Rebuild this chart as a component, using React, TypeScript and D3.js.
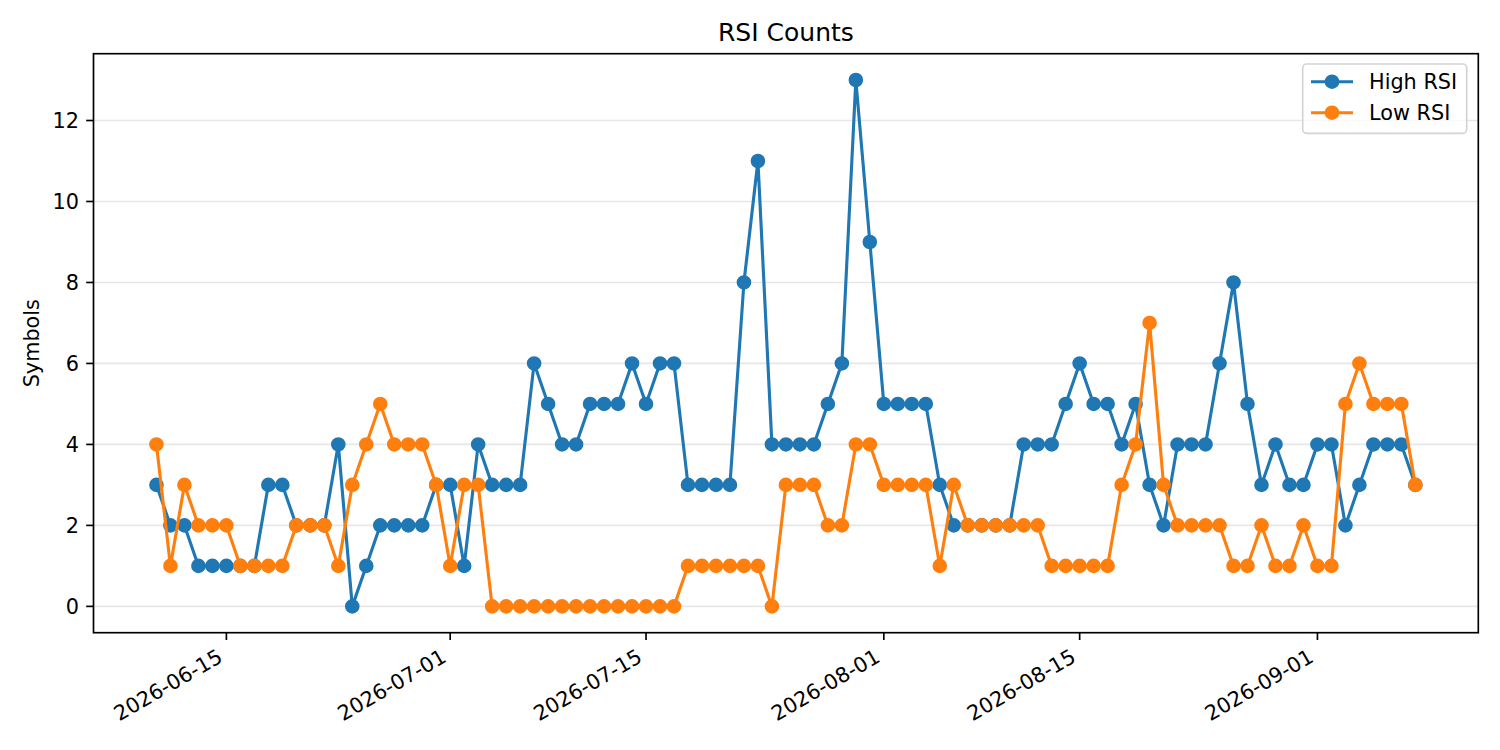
import React, { useEffect, useRef } from 'react';
import * as d3 from 'd3';

const START_DATE = '2026-06-10';

// one value per day, starting at START_DATE
const HIGH_RSI = [
  3, 2, 2, 1, 1, 1, 1, 1, 3, 3,
  2, 2, 2, 4, 0, 1, 2, 2, 2, 2,
  3, 3, 1, 4, 3, 3, 3, 6, 5, 4,
  4, 5, 5, 5, 6, 5, 6, 6, 3, 3,
  3, 3, 8, 11, 4, 4, 4, 4, 5, 6,
  13, 9, 5, 5, 5, 5, 3, 2, 2, 2,
  2, 2, 4, 4, 4, 5, 6, 5, 5, 4,
  5, 3, 2, 4, 4, 4, 6, 8, 5, 3,
  4, 3, 3, 4, 4, 2, 3, 4, 4, 4,
  3,
];

const LOW_RSI = [
  4, 1, 3, 2, 2, 2, 1, 1, 1, 1,
  2, 2, 2, 1, 3, 4, 5, 4, 4, 4,
  3, 1, 3, 3, 0, 0, 0, 0, 0, 0,
  0, 0, 0, 0, 0, 0, 0, 0, 1, 1,
  1, 1, 1, 1, 0, 3, 3, 3, 2, 2,
  4, 4, 3, 3, 3, 3, 1, 3, 2, 2,
  2, 2, 2, 2, 1, 1, 1, 1, 1, 3,
  4, 7, 3, 2, 2, 2, 2, 1, 1, 2,
  1, 1, 2, 1, 1, 5, 6, 5, 5, 5,
  3,
];

const SERIES_NAMES = ['High RSI', 'Low RSI'];
const Y_TICKS = [0, 2, 4, 6, 8, 10, 12];
const X_TICKS = ['2026-06-15', '2026-07-01', '2026-07-15', '2026-08-01', '2026-08-15', '2026-09-01'];

const WIDTH = 1500;
const HEIGHT = 750;
const PLOT = { left: 93.5, right: 1478.3, top: 53.7, bottom: 632.7 };

const COLORS = ['#1f77b4', '#ff7f0e'];
const FONT = '"DejaVu Sans", sans-serif';
const TICK_FS = 20.8;
const TICK_LEN = 7.3;
const TICK_PAD = 7.3;
const SPINE_W = 1.67;

const App: React.FC = () => {
  const svgRef = useRef<SVGSVGElement>(null);

  useEffect(() => {
    if (!svgRef.current) return;
    const svg = d3.select(svgRef.current);
    svg.selectAll('*').remove();

    const parse = d3.utcParse('%Y-%m-%d');
    const start = parse(START_DATE) as Date;
    const dates = HIGH_RSI.map((_, i) => d3.utcDay.offset(start, i));

    // matplotlib-style 5% margins around the data
    const [x0, x1] = d3.extent(dates) as [Date, Date];
    const xPad = (x1.getTime() - x0.getTime()) * 0.05;
    const x = d3
      .scaleUtc()
      .domain([new Date(x0.getTime() - xPad), new Date(x1.getTime() + xPad)])
      .range([PLOT.left, PLOT.right]);

    const yMax = d3.max([...HIGH_RSI, ...LOW_RSI]) || 0;
    const yMin = d3.min([...HIGH_RSI, ...LOW_RSI]) || 0;
    const yPad = (yMax - yMin) * 0.05;
    const y = d3
      .scaleLinear()
      .domain([yMin - yPad, yMax + yPad])
      .range([PLOT.bottom, PLOT.top]);

    svg.append('rect').attr('width', WIDTH).attr('height', HEIGHT).attr('fill', '#ffffff');

    // horizontal grid
    svg
      .append('g')
      .selectAll('line')
      .data(Y_TICKS)
      .enter()
      .append('line')
      .attr('x1', PLOT.left)
      .attr('x2', PLOT.right)
      .attr('y1', d => y(d))
      .attr('y2', d => y(d))
      .attr('stroke', '#e7e7e7')
      .attr('stroke-width', 1.67);

    // series: line then markers, blue first so orange sits on top
    const series = [HIGH_RSI, LOW_RSI];
    series.forEach((values, s) => {
      const pts = values.map((v, i) => ({ date: dates[i], value: v }));
      const line = d3
        .line<{ date: Date; value: number }>()
        .x(d => x(d.date))
        .y(d => y(d.value));
      const g = svg.append('g');
      g.append('path')
        .datum(pts)
        .attr('d', line)
        .attr('fill', 'none')
        .attr('stroke', COLORS[s])
        .attr('stroke-width', 3.125)
        .attr('stroke-linejoin', 'round')
        .attr('stroke-linecap', 'square');
      g.selectAll('circle')
        .data(pts)
        .enter()
        .append('circle')
        .attr('cx', d => x(d.date))
        .attr('cy', d => y(d.value))
        .attr('r', 6.25)
        .attr('fill', COLORS[s])
        .attr('stroke', COLORS[s])
        .attr('stroke-width', 2.08);
    });

    // frame
    svg
      .append('rect')
      .attr('x', PLOT.left)
      .attr('y', PLOT.top)
      .attr('width', PLOT.right - PLOT.left)
      .attr('height', PLOT.bottom - PLOT.top)
      .attr('fill', 'none')
      .attr('stroke', '#000')
      .attr('stroke-width', SPINE_W);

    // y ticks
    const yAxis = svg.append('g');
    Y_TICKS.forEach(t => {
      yAxis
        .append('line')
        .attr('x1', PLOT.left - TICK_LEN)
        .attr('x2', PLOT.left)
        .attr('y1', y(t))
        .attr('y2', y(t))
        .attr('stroke', '#000')
        .attr('stroke-width', SPINE_W);
      yAxis
        .append('text')
        .attr('x', PLOT.left - TICK_LEN - TICK_PAD)
        .attr('y', y(t) + TICK_FS * 0.365)
        .attr('text-anchor', 'end')
        .style('font-family', FONT)
        .style('font-size', `${TICK_FS}px`)
        .attr('fill', '#000')
        .text(String(t));
    });

    // x ticks, labels rotated 30deg and right-aligned like autofmt_xdate
    const xAxis = svg.append('g');
    X_TICKS.forEach(t => {
      const tx = x(parse(t) as Date);
      xAxis
        .append('line')
        .attr('x1', tx)
        .attr('x2', tx)
        .attr('y1', PLOT.bottom)
        .attr('y2', PLOT.bottom + TICK_LEN)
        .attr('stroke', '#000')
        .attr('stroke-width', SPINE_W);
      const ax = tx - 0.5 * 0.236 * TICK_FS;
      const ay = PLOT.bottom + TICK_LEN + TICK_PAD + 0.866 * 0.76 * TICK_FS;
      xAxis
        .append('text')
        .attr('transform', `translate(${ax},${ay}) rotate(-30)`)
        .attr('text-anchor', 'end')
        .style('font-family', FONT)
        .style('font-size', `${TICK_FS}px`)
        .attr('fill', '#000')
        .text(t);
    });

    // y label
    svg
      .append('text')
      .attr('transform', `translate(39.3,${(PLOT.top + PLOT.bottom) / 2}) rotate(-90)`)
      .attr('text-anchor', 'middle')
      .style('font-family', FONT)
      .style('font-size', `${TICK_FS}px`)
      .attr('fill', '#000')
      .text('Symbols');

    // title
    svg
      .append('text')
      .attr('x', (PLOT.left + PLOT.right) / 2)
      .attr('y', PLOT.top - 12.5)
      .attr('text-anchor', 'middle')
      .style('font-family', FONT)
      .style('font-size', '25px')
      .attr('fill', '#000')
      .text('RSI Counts');

    // legend
    const lg = svg.append('g');
    lg.append('rect')
      .attr('x', 1302.7)
      .attr('y', 64)
      .attr('width', 164)
      .attr('height', 69.3)
      .attr('rx', 4)
      .attr('fill', 'rgba(255,255,255,0.8)')
      .attr('stroke', '#d4d4d4')
      .attr('stroke-width', 1.67);
    SERIES_NAMES.forEach((name, i) => {
      const cy = 81.7 + i * 31;
      lg.append('line')
        .attr('x1', 1311)
        .attr('x2', 1353)
        .attr('y1', cy)
        .attr('y2', cy)
        .attr('stroke', COLORS[i])
        .attr('stroke-width', 3.125);
      lg.append('circle')
        .attr('cx', 1332)
        .attr('cy', cy)
        .attr('r', 6.25)
        .attr('fill', COLORS[i])
        .attr('stroke', COLORS[i])
        .attr('stroke-width', 2.08);
      lg.append('text')
        .attr('x', 1369)
        .attr('y', cy + TICK_FS * 0.365)
        .style('font-family', FONT)
        .style('font-size', `${TICK_FS}px`)
        .attr('fill', '#000')
        .text(name);
    });
  }, []);

  return (
    <svg
      ref={svgRef}
      width={WIDTH}
      height={HEIGHT}
      style={{ position: 'absolute', left: 0, top: 0, display: 'block' }}
    />
  );
};

export default App;
